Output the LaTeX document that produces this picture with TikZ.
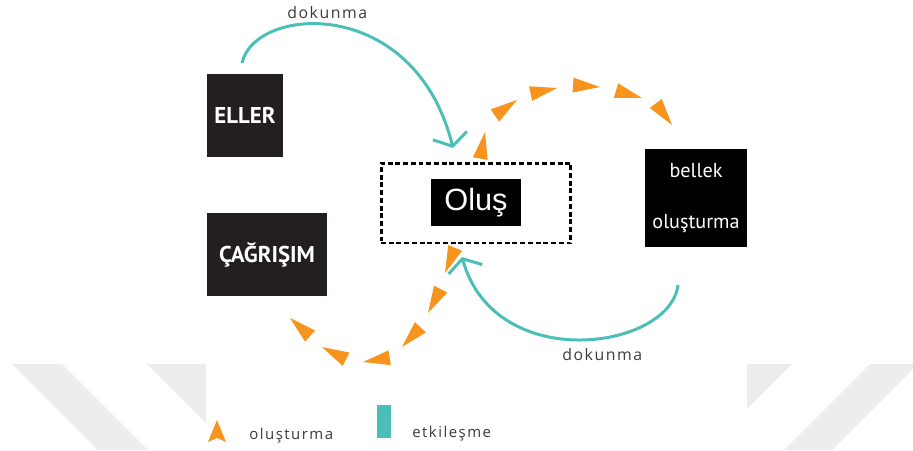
\documentclass[tikz,border=0pt]{standalone}
\usepackage{fontspec}
\usepackage{tikz}
\usepackage{xcolor}
\usetikzlibrary{arrows.meta}
\setmainfont{Open Sans}
\newfontfamily\boxfont{PT Sans}
\newfontfamily\olusfont{Liberation Sans}
\newfontfamily\lblfont[LetterSpace=10]{Open Sans}
\definecolor{darkbox}{HTML}{231F20}
\definecolor{tealline}{RGB}{75,190,183}
\definecolor{orangetri}{HTML}{F7941D}
\definecolor{wmgray}{HTML}{EDEDED}
\definecolor{lbltext}{HTML}{3A3A3A}

\begin{document}
\begin{tikzpicture}[x=0.02cm,y=-0.02cm,
    blackbox/.style={rectangle,fill=darkbox,text=white,inner sep=0pt,font=\boxfont\bfseries\fontsize{13}{15}\selectfont},
    touch/.style={draw=tealline,line width=1.7pt,-{Straight Barb[length=2.2mm,width=7mm]}},
    lbl/.style={text=lbltext,inner sep=0pt,font=\lblfont\fontsize{9}{11}\selectfont},
    legendlbl/.style={lbl,font=\lblfont\fontsize{8.5}{10}\selectfont},
    tri/.style={fill=orangetri}]
    \useasboundingbox (0,0) rectangle (913,450);

    % Watermark
    \fill[wmgray] (12,364) -- (62,364) -- (148,450) -- (98,450) -- cycle;
    \fill[wmgray] (147,364) -- (206,364) -- (206,423) -- cycle;
    \fill[wmgray] (747,364) -- (792,364) -- (747,409) -- cycle;
    \fill[wmgray] (870,364) -- (913,364) -- (913,369) -- (832,450) -- (784,450) -- cycle;

    % Nodes
    \node[blackbox,minimum width=1.52cm,minimum height=1.66cm] (eller) at (245,115.5) {ELLER};
    \node[blackbox,minimum width=2.4cm,minimum height=1.66cm] (cagrisim) at (267,254.5) {ÇAĞRIŞIM};
    \node[rectangle,draw,line width=1.7pt,dash pattern=on 2.8pt off 1.6pt,minimum width=3.8cm,minimum height=1.6cm] (frame) at (476,203) {};
    \node[rectangle,fill=black,text=white,inner sep=0pt,font=\olusfont\fontsize{17.5}{20}\selectfont,minimum width=1.8cm,minimum height=0.94cm] (olus) at (476,202.5) {Oluş};
    \node[rectangle,fill=black,text=white,inner sep=0pt,align=center,font=\boxfont\fontsize{11.5}{29.5}\selectfont,minimum width=2.04cm,minimum height=1.96cm] (bellek) at (696,198) {bellek\\oluşturma};

    % Touch arrows
    \coordinate (ellerout) at (242,63);
    \coordinate (framein1) at (453,148);
    \coordinate (bellekout) at (678,285);
    \coordinate (framein2) at (462,257);
    \draw[touch] (ellerout) .. controls (255,5) and (415,-5) .. (framein1);
    \draw[touch] (bellekout) .. controls (670,350) and (495,375) .. (framein2);
    \node[lbl,anchor=base west] (touchtop) at (287,18) {dokunma};
    \node[lbl,anchor=base west] (touchbot) at (562,360) {dokunma};

    % Creation triangles
    \foreach \x/\y/\a in {485/132/80,517/100/35,557/88/12,600/87/-4,642/98/-16,672/125/-53,
        290/318/138,322/347/153,363/362/189,402/347/227,428/313/242,445/273/248}
        \fill[tri,shift={(\x,\y)},rotate=\a] (0,0) -- (-27,7.5) -- (-27,-7.5) -- cycle;

    % Legend
    \fill[tri] (217,420) -- (226,442) -- (217,438) -- (208,442) -- cycle;
    \node[legendlbl,anchor=base west] (lgcreate) at (249,439) {oluşturma};
    \fill[tealline] (377,405) rectangle (391,438);
    \node[legendlbl,anchor=base west] (lginteract) at (412,437) {etkileşme};
\end{tikzpicture}
\end{document}
